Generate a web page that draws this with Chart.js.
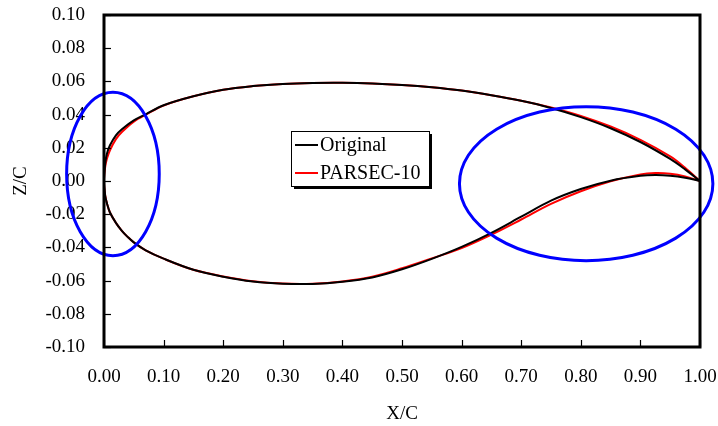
<!DOCTYPE html>
<html>
<head>
<meta charset="utf-8">
<script src="https://cdn.jsdelivr.net/npm/chart.js@4.4.1/dist/chart.umd.min.js"></script>
<style>
  html, body { margin: 0; padding: 0; background: #fff; }
  #wrap { width: 718px; height: 426px; }
</style>
</head>
<body>
<div id="wrap"><canvas id="chart" width="718" height="426"></canvas></div>
<script>
// upper surface, trailing edge -> leading edge
var xUpper = [1.0, 0.975, 0.95, 0.9, 0.85, 0.8, 0.75, 0.7, 0.65, 0.6, 0.55, 0.5, 0.45, 0.4, 0.35, 0.3, 0.25, 0.2, 0.15, 0.1, 0.07, 0.05, 0.03, 0.02, 0.01, 0.005, 0.002, 0.0];
var zUpperOriginal = [0.0, 0.0070, 0.0133, 0.0235, 0.0318, 0.0385, 0.0440, 0.0483, 0.0517, 0.0545, 0.0565, 0.0579, 0.0588, 0.0592, 0.0591, 0.0585, 0.0572, 0.0550, 0.0510, 0.0456, 0.0402, 0.0365, 0.0312, 0.0275, 0.0215, 0.0165, 0.0105, 0.0];
var zUpperParsec = [0.0, 0.0080, 0.0148, 0.0248, 0.0328, 0.0392, 0.0443, 0.0484, 0.0517, 0.0545, 0.0565, 0.0579, 0.0588, 0.0592, 0.0591, 0.0585, 0.0572, 0.0550, 0.0510, 0.0455, 0.0400, 0.0358, 0.0295, 0.0252, 0.0185, 0.0135, 0.0085, 0.0];

// lower surface, leading edge -> trailing edge
var xLower = [0.0, 0.002, 0.005, 0.01, 0.02, 0.03, 0.04, 0.05, 0.07, 0.1, 0.15, 0.2, 0.25, 0.3, 0.35, 0.4, 0.45, 0.5, 0.55, 0.6, 0.65, 0.7, 0.75, 0.8, 0.85, 0.9, 0.925, 0.95, 0.975, 1.0];
var zLowerOriginal = [0.0, -0.0088, -0.0135, -0.0190, -0.0252, -0.0300, -0.0338, -0.0370, -0.0418, -0.0468, -0.0535, -0.0577, -0.0606, -0.0619, -0.0620, -0.0607, -0.0581, -0.0532, -0.0469, -0.0397, -0.0312, -0.0215, -0.0118, -0.0048, 0.0002, 0.0031, 0.0036, 0.0032, 0.0020, 0.0];
var zLowerParsec = [0.0, -0.0088, -0.0135, -0.0190, -0.0252, -0.0300, -0.0338, -0.0370, -0.0418, -0.0468, -0.0535, -0.0575, -0.0604, -0.0618, -0.0619, -0.0605, -0.0577, -0.0526, -0.0466, -0.0404, -0.0323, -0.0232, -0.0138, -0.0062, -0.0002, 0.0040, 0.0048, 0.0044, 0.0028, 0.0];

// highlighted regions (blue ellipses), in X/C and Z/C units
var ellipseCx = [0.015, 0.809];
var ellipseCy = [0.0042, -0.0016];
var ellipseRx = [0.0777, 0.2126];
var ellipseRy = [0.0492, 0.0464];

var seriesLabels = ['Original', 'PARSEC-10'];

function outline(xu, zu, xl, zl) {
    var pts = [];
    xu.forEach(function (x, i) { pts.push({x: x, y: zu[i]}); });
    xl.forEach(function (x, i) { if (i > 0) pts.push({x: x, y: zl[i]}); });
    return pts;
}

var serif = '"Liberation Serif", "Times New Roman", serif';

var extras = {
    id: 'extras',
    afterDatasetsDraw: function (chart) {
        var ctx = chart.ctx;
        var a = chart.chartArea;
        var xs = chart.scales.x, ys = chart.scales.y;
        ctx.save();

        // ellipses
        ctx.strokeStyle = '#0000ff';
        ctx.lineWidth = 3;
        for (var i = 0; i < ellipseCx.length; i++) {
            var cx = xs.getPixelForValue(ellipseCx[i]);
            var cy = ys.getPixelForValue(ellipseCy[i]);
            var rx = xs.getPixelForValue(ellipseCx[i] + ellipseRx[i]) - cx;
            var ry = cy - ys.getPixelForValue(ellipseCy[i] + ellipseRy[i]);
            ctx.beginPath();
            ctx.ellipse(cx, cy, rx, ry, 0, 0, Math.PI * 2);
            ctx.stroke();
        }

        // frame
        ctx.strokeStyle = '#000';
        ctx.lineWidth = 3;
        ctx.strokeRect(a.left, a.top, a.right - a.left, a.bottom - a.top);

        // inward ticks
        ctx.lineWidth = 1.2;
        xs.ticks.forEach(function (t) {
            var px = Math.round(xs.getPixelForValue(t.value)) + 0.5;
            ctx.beginPath();
            ctx.moveTo(px, a.bottom);
            ctx.lineTo(px, a.bottom - 7);
            ctx.stroke();
        });
        ys.ticks.forEach(function (t) {
            var py = Math.round(ys.getPixelForValue(t.value)) + 0.5;
            ctx.beginPath();
            ctx.moveTo(a.left, py);
            ctx.lineTo(a.left + 7, py);
            ctx.stroke();
        });

        // legend box
        var bx = 291, by = 131, bw = 138, bh = 55;
        ctx.fillStyle = '#000';
        ctx.fillRect(bx + 3, by + 3, bw, bh);
        ctx.fillStyle = '#fff';
        ctx.fillRect(bx, by, bw, bh);
        ctx.lineWidth = 1;
        ctx.strokeRect(bx + 0.5, by + 0.5, bw, bh);
        ctx.font = '20px ' + serif;
        ctx.textBaseline = 'middle';
        ctx.textAlign = 'left';
        chart.data.datasets.forEach(function (ds, k) {
            var ry = by + 14 + k * 28;
            ctx.strokeStyle = ds.borderColor;
            ctx.lineWidth = 2;
            ctx.beginPath();
            ctx.moveTo(bx + 4, ry);
            ctx.lineTo(bx + 27, ry);
            ctx.stroke();
            ctx.fillStyle = '#000';
            ctx.fillText(ds.label, bx + 29, ry + 1);
        });
        ctx.restore();
    }
};

function fmt(v) {
    if (Math.abs(v) < 1e-9) v = 0;
    return v.toFixed(2);
}

var ctx = document.querySelector('#chart').getContext('2d');
var airfoilChart = new Chart(ctx, {
    type: 'scatter',
    data: {
        datasets: [{
            label: seriesLabels[0],
            data: outline(xUpper, zUpperOriginal, xLower, zLowerOriginal),
            borderColor: '#000000',
            borderWidth: 2,
            showLine: true,
            pointRadius: 0,
            tension: 0.35,
            fill: false
        }, {
            label: seriesLabels[1],
            data: outline(xUpper, zUpperParsec, xLower, zLowerParsec),
            borderColor: '#ff0000',
            borderWidth: 2,
            showLine: true,
            pointRadius: 0,
            tension: 0.35,
            fill: false
        }]
    },
    options: {
        responsive: false,
        animation: false,
        layout: { padding: 0 },
        plugins: {
            legend: { display: false },
            tooltip: { enabled: false }
        },
        scales: {
            x: {
                type: 'linear',
                min: 0,
                max: 1,
                afterFit: function (s) {
                    s.height = 79;
                    s.paddingLeft = 0;
                    s.paddingRight = 18;
                },
                grid: { drawOnChartArea: false, drawTicks: false },
                border: { display: false },
                ticks: {
                    stepSize: 0.1,
                    padding: 19,
                    color: '#000',
                    font: { family: serif, size: 19 },
                    maxRotation: 0,
                    callback: function (v) { return fmt(v); }
                },
                title: {
                    display: true,
                    text: 'X/C',
                    color: '#000',
                    font: { family: serif, size: 19 },
                    padding: { top: 0, bottom: 1 }
                }
            },
            y: {
                type: 'linear',
                min: -0.1,
                max: 0.1,
                afterFit: function (s) {
                    s.width = 104;
                    s.paddingTop = 15;
                    s.paddingBottom = 0;
                },
                grid: { drawOnChartArea: false, drawTicks: false },
                border: { display: false },
                ticks: {
                    stepSize: 0.02,
                    padding: 19,
                    color: '#000',
                    font: { family: serif, size: 19 },
                    callback: function (v) { return fmt(v); }
                },
                title: {
                    display: true,
                    text: 'Z/C',
                    color: '#000',
                    font: { family: serif, size: 19 },
                    padding: { top: 10, bottom: 0 }
                }
            }
        }
    },
    plugins: [extras]
});
</script>
</body>
</html>
